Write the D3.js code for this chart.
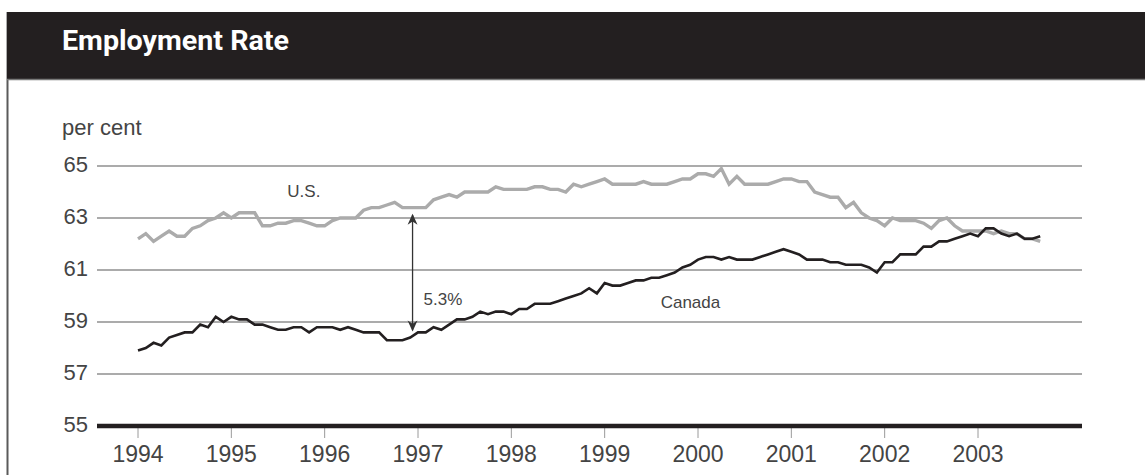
<!DOCTYPE html>
<html>
<meta charset="utf-8">
<title>Employment Rate</title>
<script src="https://d3js.org/d3.v7.min.js"></script>
<style>
body { margin: 0; background: #fff; }
text { font-family: "Liberation Sans", Arial, sans-serif; fill: #444; }
.title { font-family: Roboto, "Liberation Sans", sans-serif; font-weight: 700; fill: #fff; }
.grid line { stroke: #8f8f8f; stroke-width: 1.3; }
.line { fill: none; stroke-linejoin: miter; }
</style>
<body>
<svg width="1145" height="475"></svg>
<script>
// monthly data, Jan 1994 to Sep 2003
var startYear = 1994;
var usRate = [
  62.2, 62.4, 62.1, 62.3, 62.5, 62.3, 62.3, 62.6, 62.7, 62.9, 63.0, 63.2,
  63.0, 63.2, 63.2, 63.2, 62.7, 62.7, 62.8, 62.8, 62.9, 62.9, 62.8, 62.7,
  62.7, 62.9, 63.0, 63.0, 63.0, 63.3, 63.4, 63.4, 63.5, 63.6, 63.4, 63.4,
  63.4, 63.4, 63.7, 63.8, 63.9, 63.8, 64.0, 64.0, 64.0, 64.0, 64.2, 64.1,
  64.1, 64.1, 64.1, 64.2, 64.2, 64.1, 64.1, 64.0, 64.3, 64.2, 64.3, 64.4,
  64.5, 64.3, 64.3, 64.3, 64.3, 64.4, 64.3, 64.3, 64.3, 64.4, 64.5, 64.5,
  64.7, 64.7, 64.6, 64.9, 64.3, 64.6, 64.3, 64.3, 64.3, 64.3, 64.4, 64.5,
  64.5, 64.4, 64.4, 64.0, 63.9, 63.8, 63.8, 63.4, 63.6, 63.2, 63.0, 62.9,
  62.7, 63.0, 62.9, 62.9, 62.9, 62.8, 62.6, 62.9, 63.0, 62.7, 62.5, 62.5,
  62.5, 62.5, 62.4, 62.5, 62.4, 62.4, 62.2, 62.2, 62.1
];
var canadaRate = [
  57.9, 58.0, 58.2, 58.1, 58.4, 58.5, 58.6, 58.6, 58.9, 58.8, 59.2, 59.0,
  59.2, 59.1, 59.1, 58.9, 58.9, 58.8, 58.7, 58.7, 58.8, 58.8, 58.6, 58.8,
  58.8, 58.8, 58.7, 58.8, 58.7, 58.6, 58.6, 58.6, 58.3, 58.3, 58.3, 58.4,
  58.6, 58.6, 58.8, 58.7, 58.9, 59.1, 59.1, 59.2, 59.4, 59.3, 59.4, 59.4,
  59.3, 59.5, 59.5, 59.7, 59.7, 59.7, 59.8, 59.9, 60.0, 60.1, 60.3, 60.1,
  60.5, 60.4, 60.4, 60.5, 60.6, 60.6, 60.7, 60.7, 60.8, 60.9, 61.1, 61.2,
  61.4, 61.5, 61.5, 61.4, 61.5, 61.4, 61.4, 61.4, 61.5, 61.6, 61.7, 61.8,
  61.7, 61.6, 61.4, 61.4, 61.4, 61.3, 61.3, 61.2, 61.2, 61.2, 61.1, 60.9,
  61.3, 61.3, 61.6, 61.6, 61.6, 61.9, 61.9, 62.1, 62.1, 62.2, 62.3, 62.4,
  62.3, 62.6, 62.6, 62.4, 62.3, 62.4, 62.2, 62.2, 62.3
];
var yearTicks = [1994, 1995, 1996, 1997, 1998, 1999, 2000, 2001, 2002, 2003];
var rateTicks = [55, 57, 59, 61, 63, 65];

var svg = d3.select("svg");
var plotLeft = 97, plotRight = 1082;

var x = d3.scaleLinear().domain([1994, 2003]).range([138, 978]);
var y = d3.scaleLinear().domain([55, 65]).range([426, 166]);

// frame and title bar
svg.append("line")
  .attr("x1", 7.5).attr("x2", 7.5).attr("y1", 12).attr("y2", 475)
  .attr("stroke", "#5a5a5a").attr("stroke-width", 2);
svg.append("rect")
  .attr("x", 7).attr("y", 12).attr("width", 1138).attr("height", 67)
  .attr("fill", "#231f20");
svg.append("line")
  .attr("x1", 7).attr("x2", 1145).attr("y1", 79.5).attr("y2", 79.5)
  .attr("stroke", "#7a7a7a").attr("stroke-width", 1.5);
svg.append("text")
  .attr("class", "title")
  .attr("x", 62).attr("y", 50)
  .attr("font-size", 28)
  .attr("textLength", 227).attr("lengthAdjust", "spacingAndGlyphs")
  .text("Employment Rate");

svg.append("text")
  .attr("x", 62).attr("y", 135)
  .attr("font-size", 22)
  .text("per cent");

// grid lines and y labels
var grid = svg.append("g").attr("class", "grid");
grid.selectAll("line")
  .data(rateTicks.filter(function(d) { return d > 55; }))
  .enter().append("line")
  .attr("x1", plotLeft).attr("x2", plotRight)
  .attr("y1", function(d) { return y(d); })
  .attr("y2", function(d) { return y(d); })
  .attr("stroke", function(d) { return d == 57 ? "#b0b0b0" : null; });

svg.selectAll(".ylab")
  .data(rateTicks)
  .enter().append("text")
  .attr("class", "ylab")
  .attr("x", 88)
  .attr("y", function(d) { return y(d) + 6; })
  .attr("text-anchor", "end")
  .attr("font-size", 22)
  .text(function(d) { return d; });

// x ticks
svg.selectAll(".xtick")
  .data(yearTicks)
  .enter().append("line")
  .attr("class", "xtick")
  .attr("x1", function(d) { return x(d); })
  .attr("x2", function(d) { return x(d); })
  .attr("y1", y(55)).attr("y2", y(55) + 12)
  .attr("stroke", "#9a9a9a").attr("stroke-width", 1);

svg.selectAll(".xlab")
  .data(yearTicks)
  .enter().append("text")
  .attr("class", "xlab")
  .attr("x", function(d) { return x(d); })
  .attr("y", 462)
  .attr("text-anchor", "middle")
  .attr("font-size", 23)
  .text(function(d) { return d; });

// base line
svg.append("line")
  .attr("x1", plotLeft).attr("x2", plotRight)
  .attr("y1", y(55)).attr("y2", y(55))
  .attr("stroke", "#231f20").attr("stroke-width", 4.5);

var line = d3.line()
  .x(function(d, i) { return x(startYear + i / 12); })
  .y(function(d) { return y(d); });

svg.append("path")
  .datum(usRate)
  .attr("class", "line")
  .attr("stroke", "#ababab")
  .attr("stroke-width", 3.4)
  .attr("d", line);

svg.append("path")
  .datum(canadaRate)
  .attr("class", "line")
  .attr("stroke", "#231f20")
  .attr("stroke-width", 2.6)
  .attr("d", line);

// gap annotation
var defs = svg.append("defs");
defs.append("marker")
  .attr("id", "head")
  .attr("viewBox", "0 0 10 10")
  .attr("refX", 9).attr("refY", 5)
  .attr("markerWidth", 12).attr("markerHeight", 11)
  .attr("markerUnits", "userSpaceOnUse")
  .attr("orient", "auto-start-reverse")
  .append("path")
  .attr("d", "M0,0.5 L10,5 L0,9.5 L3,5 Z")
  .attr("fill", "#333");

var gapX = x(1996 + 11.3 / 12);
svg.append("line")
  .attr("x1", gapX).attr("x2", gapX)
  .attr("y1", y(63.12)).attr("y2", y(58.68))
  .attr("stroke", "#333").attr("stroke-width", 1.3)
  .attr("marker-start", "url(#head)")
  .attr("marker-end", "url(#head)");

svg.append("text")
  .attr("x", gapX + 11).attr("y", y(59.67))
  .attr("font-size", 17)
  .text("5.3%");

svg.append("text")
  .attr("x", x(1995.6)).attr("y", y(63.82))
  .attr("font-size", 17)
  .text("U.S.");

svg.append("text")
  .attr("x", x(1999.6)).attr("y", y(59.54))
  .attr("font-size", 17)
  .text("Canada");
</script>
</body>
</html>
